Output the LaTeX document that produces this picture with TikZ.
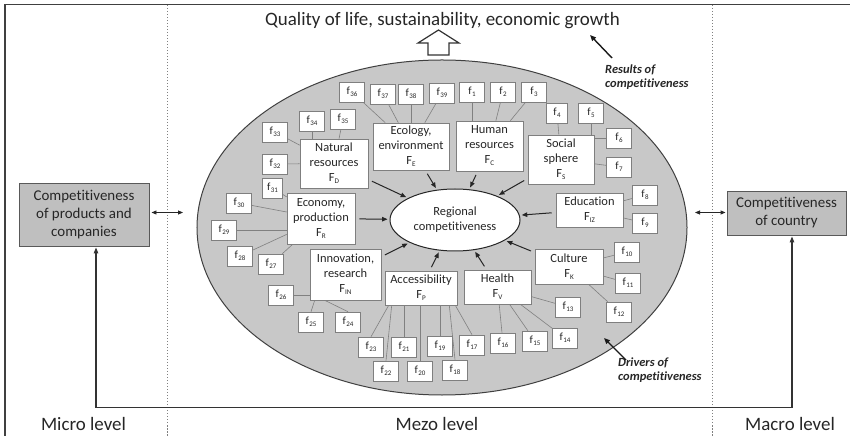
\documentclass[tikz,border=0pt]{standalone}
\usepackage{fontspec}
\setmainfont[Ligatures={NoCommon}]{Carlito}
\usetikzlibrary{shapes.geometric,arrows.meta}
\definecolor{txt}{HTML}{262626}
\definecolor{boxgray}{HTML}{7F7F7F}
\definecolor{linegray}{HTML}{808080}
\definecolor{ellfill}{HTML}{C8C8C8}
\definecolor{ellborder}{HTML}{404040}
\definecolor{sidegray}{HTML}{BFBFBF}
\definecolor{sideborder}{HTML}{595959}
\definecolor{framegray}{HTML}{404040}
\newcommand\lsub[1]{\raisebox{-0.35ex}{\fontsize{7.2}{7}\selectfont #1}}
\newcommand\fsub[1]{f\kern0.3bp\raisebox{-0.35ex}{\fontsize{7}{7}\selectfont #1}}
\begin{document}
\begin{tikzpicture}[x=1bp,y=-1bp,
  mbox/.style={draw=boxgray, fill=white, align=center, inner sep=1bp, font=\fontsize{12.5}{15}\selectfont, text=txt, line width=0.6bp},
  fbox/.style={draw=boxgray, fill=white, minimum width=25bp, minimum height=20bp, inner sep=0pt, font=\fontsize{11}{12}\selectfont, text=txt, line width=0.6bp},
  fline/.style={draw=linegray, line width=0.6bp},
  arr/.style={-{Triangle[length=5.5bp,width=4.5bp]}, line width=1bp, draw=black!85, shorten <=4bp, shorten >=2bp},
  sbox/.style={draw=sideborder, fill=sidegray, align=center, font=\fontsize{15}{18}\selectfont, text=txt, line width=0.9bp, inner sep=0pt},
  dar/.style={{Triangle[length=5bp,width=4bp]}-{Triangle[length=5bp,width=4bp]}, line width=0.9bp, draw=black!85},
  looparr/.style={{Triangle[length=6bp,width=4.5bp]}-{Triangle[length=6bp,width=4.5bp]}, line width=1.1bp, draw=black!80},
  dotline/.style={draw=gray, line width=0.7bp, dash pattern=on 1.5bp off 1.5bp},
  lvl/.style={font=\fontsize{19}{22}\selectfont, text=txt, anchor=base, inner sep=0pt},
  lab/.style={font=\bfseries\itshape\fontsize{12.5}{14}\selectfont, text=txt, align=left, anchor=north west, inner sep=0pt},
]
\useasboundingbox (0,0) rectangle (850,436);
% frame and level separators
\draw[line width=1.2bp, draw=framegray] (5,436) -- (5,4.5) -- (850,4.5);
\draw[dotline] (167,5) -- (167,436);
\draw[dotline] (712,5) -- (712,436);

% big ellipse
\node[ellipse, draw=ellborder, fill=ellfill, line width=1bp, minimum width=490bp, minimum height=335bp, inner sep=0pt] (mezo) at (442,227.5) {};

% title and hollow arrow
\node[lvl] (title) at (442.5,26) {Quality of life, sustainability, economic growth};
\draw[line width=1.2bp, draw=black!80, fill=white, line join=miter] (428,55) -- (428,43) -- (418,43) -- (438.5,30) -- (459,43) -- (449,43) -- (449,55) -- cycle;

% level labels
\node[lvl] (micro) at (83.5,430) {Micro level};
\node[lvl] (mezol) at (437,430) {Mezo level};
\node[lvl] (macro) at (790,430) {Macro level};

% side boxes
\node[sbox, minimum width=130bp, minimum height=63bp] (lbox) at (84,214.5) {Competitiveness\\of products and\\companies};
\node[sbox, minimum width=119bp, minimum height=44bp] (rbox) at (786.5,213) {Competitiveness\\of country};

% central ellipse
\node[ellipse, draw=black!85, fill=white, line width=1bp, minimum width=130bp, minimum height=62bp, inner sep=0pt, align=center, font=\fontsize{12.5}{15}\selectfont, text=txt] (rc) at (455,220) {Regional\\competitiveness};

% main factor boxes
\node[mbox, minimum width=68bp, minimum height=49bp] (nat) at (334,163.5) {Natural\\resources\\F\lsub{D}};
\node[mbox, minimum width=76bp, minimum height=47bp] (env) at (411,146.5) {Ecology,\\environment\\F\lsub{E}};
\node[mbox, minimum width=67bp, minimum height=50bp] (hum) at (489.5,146) {Human\\resources\\F\lsub{C}};
\node[mbox, minimum width=66bp, minimum height=49bp] (soc) at (561,159.5) {Social\\sphere\\F\lsub{S}};
\node[mbox, minimum width=67bp, minimum height=34bp] (edu) at (589.5,210) {Education\\F\lsub{IZ}};
\node[mbox, minimum width=68bp, minimum height=35bp] (cul) at (569,266.5) {Culture\\F\lsub{K}};
\node[mbox, minimum width=67bp, minimum height=34bp] (hea) at (497.5,287) {Health\\F\lsub{V}};
\node[mbox, minimum width=72bp, minimum height=34bp] (acc) at (421,288) {Accessibility\\F\lsub{P}};
\node[mbox, minimum width=71bp, minimum height=51bp] (inn) at (345.5,274.5) {Innovation,\\research\\F\lsub{IN}};
\node[mbox, minimum width=68bp, minimum height=51bp] (eco) at (321,218.5) {Economy,\\production\\F\lsub{R}};

% small factor boxes
\foreach \n/\x/\y in {1/472/92, 2/503/92, 3/534/92, 5/591/113, 6/619/138, 7/619/167,
  8/645/195, 9/645/223, 10/627/252, 11/628/283, 12/619/312, 13/568/307, 14/565/338,
  15/535/341, 16/503/343, 17/472/345, 18/455/370, 19/440/346, 20/420/371, 21/404/347,
  22/386/371, 23/371/347, 24/348/322, 25/311/322, 26/281/295, 27/271/264, 28/240/256,
  29/224/230, 30/239/203, 32/275/164, 33/275/132, 34/312/121, 35/343/119,
  36/352/92, 37/383/94, 38/411/94, 39/442/93}
  \node[fbox] (f\n) at (\x,\y) {\fsub{\n}};
\node[fbox, minimum width=21bp] (f4) at (557,113) {\fsub{4}};
\node[fbox, minimum width=20bp] (f31) at (272.5,188) {\fsub{31}};

% factor connectors (centre to centre)
\foreach \a/\b in {2/hum, 3/hum, 4/soc, 7/soc, 8/edu, 9/edu, 10/cul, 11/cul, 12/cul,
  13/hea, 14/hea, 15/hea, 16/hea, 27/eco, 28/eco, 30/eco, 31/eco,
  32/nat, 33/nat, 35/nat, 36/env, 37/env, 39/env}
  \draw[fline] (f\a) -- (\b);
% factor connectors (shaped)
\draw[fline] (f1.south) -- (f1.south |- hum.north);
\draw[fline] (f5.south) -- (f5.south |- soc.north);
\draw[fline] (f6.west) -- (f6.west -| soc.east);
\draw[fline] (f38.south) -- (f38.south |- env.north);
\draw[fline] (f34.south) -- (f34.south |- nat.north);
\draw[fline] (f29.east) -- (f29.east -| eco.west);
\draw[fline] (f26.east) -- (f26.east -| inn.west);
\draw[fline] (f25.north) -- ([xshift=5bp]inn.south west);
\draw[fline] (f24.north) -- ([xshift=15bp]inn.south west);
\draw[fline] (f23.north) -- ([xshift=4bp]acc.south west);
\draw[fline] (f22.north) -- ([xshift=7bp]acc.south west);
\draw[fline] (f21.north) -- (f21.north |- acc.south);
\draw[fline] (f20.north) -- (f20.north |- acc.south);
\draw[fline] (f19.north) -- (f19.north |- acc.south);
\draw[fline] (f18.north) -- ([xshift=-8bp]acc.south east);
\draw[fline] (f17.north) -- ([xshift=-2bp]acc.south east);

% arrows to regional competitiveness
\foreach \b in {nat, env, hum, soc, edu, cul, hea, acc, inn, eco}
  \draw[arr] (\b) -- (rc);

% links between levels
\coordinate (la) at (183,212.5);
\coordinate (ra) at (695,212.5);
\draw[dar] ([xshift=2bp]lbox.east |- la) -- (la);
\draw[dar] (ra) -- ([xshift=-1bp]rbox.west |- ra);
\coordinate (lb) at (96,407.5);
\coordinate (rb) at (792,407.5);
\draw[looparr] ([yshift=-1bp]lb |- lbox.south) -- (lb) -- (rb) -- ([yshift=-1bp]rb |- rbox.south);

% results and drivers
\node[lab] (res) at (605,65) {Results of\\competitiveness};
\node[lab] (drv) at (618,358) {Drivers of\\competitiveness};
\coordinate (resfrom) at (612,58);
\coordinate (resto) at (590,35);
\coordinate (drvfrom) at (626,360);
\coordinate (drvto) at (604,338);
\draw[-{Triangle[length=6bp,width=5bp]}, line width=1.4bp, draw=black!90] (resfrom) -- (resto);
\draw[-{Triangle[length=6bp,width=5bp]}, line width=1.4bp, draw=black!90] (drvfrom) -- (drvto);
\end{tikzpicture}
\end{document}
